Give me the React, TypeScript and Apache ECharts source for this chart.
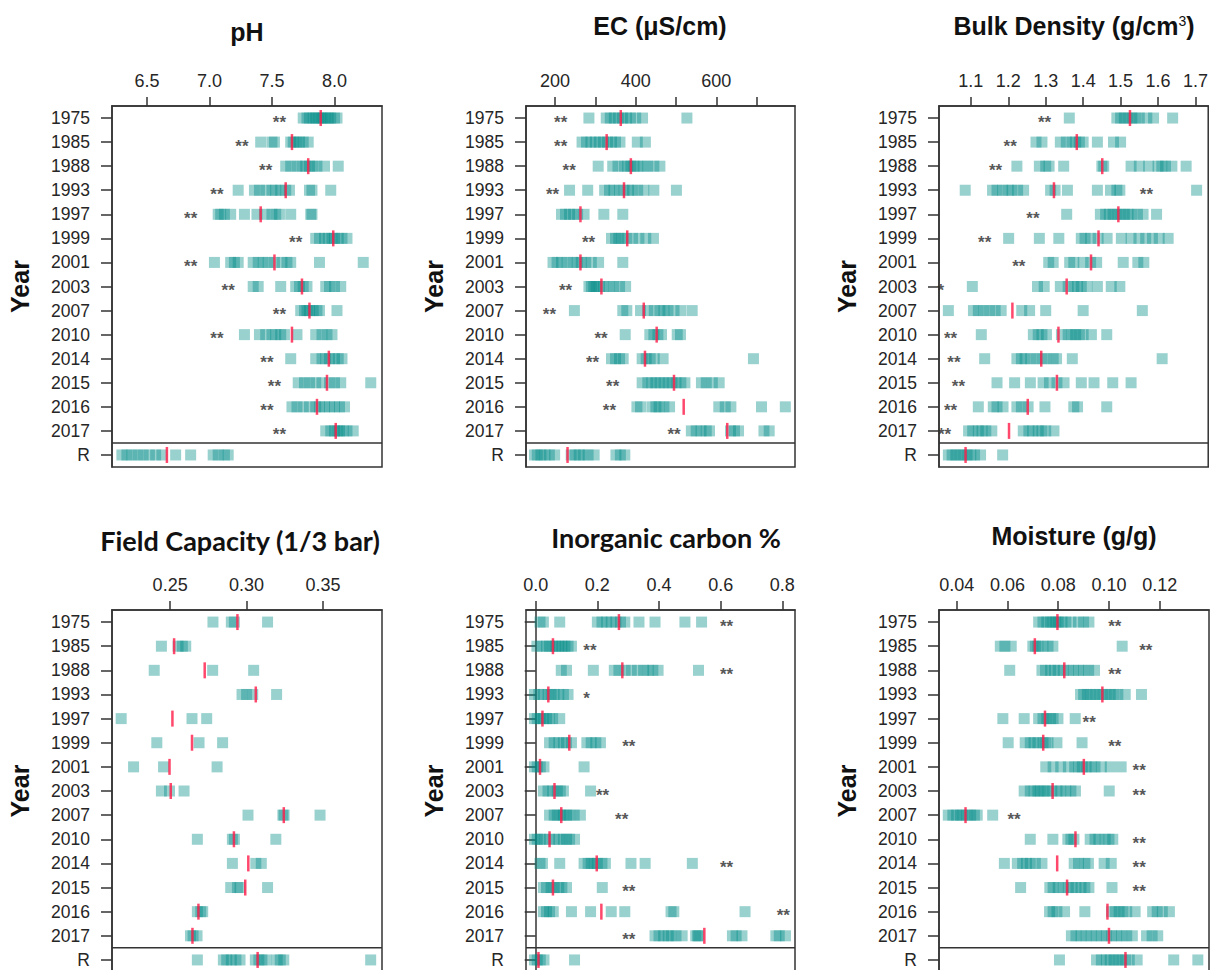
import React, { useEffect, useRef } from 'react';
import * as echarts from 'echarts';

const ROWS = ['1975', '1985', '1988', '1993', '1997', '1999', '2001', '2003', '2007', '2010', '2014', '2015', '2016', '2017', 'R'];

// ---------- pH ----------
const PH_VALUES: number[][] = [
  [7.75, 7.78, 7.8, 7.83, 7.85, 7.87, 7.89, 7.91, 7.93, 7.95, 7.97, 8.0, 8.02],
  [7.41, 7.5, 7.52, 7.65, 7.67, 7.7, 7.72, 7.75, 7.79],
  [7.61, 7.65, 7.7, 7.74, 7.77, 7.8, 7.83, 7.86, 7.92, 8.03],
  [7.23, 7.36, 7.4, 7.45, 7.5, 7.53, 7.57, 7.61, 7.64, 7.8, 7.82, 7.97],
  [7.07, 7.09, 7.12, 7.17, 7.28, 7.38, 7.44, 7.5, 7.53, 7.56, 7.65, 7.81, 7.82],
  [7.85, 7.88, 7.92, 7.95, 7.98, 8.0, 8.03, 8.06, 8.1],
  [7.04, 7.17, 7.2, 7.23, 7.35, 7.39, 7.43, 7.47, 7.52, 7.58, 7.62, 7.65, 7.88, 8.23],
  [7.35, 7.39, 7.57, 7.69, 7.72, 7.75, 7.78, 7.93, 7.96, 8.0, 8.05],
  [7.73, 7.76, 7.78, 7.8, 7.83, 7.86, 7.88, 8.02],
  [7.28, 7.4, 7.45, 7.5, 7.53, 7.57, 7.6, 7.7, 7.85, 7.9, 7.94, 7.98],
  [7.65, 7.85, 7.9, 7.93, 7.96, 8.0, 8.03, 8.06],
  [7.71, 7.76, 7.8, 7.85, 7.9, 7.96, 8.0, 8.05, 8.29],
  [7.66, 7.7, 7.75, 7.8, 7.85, 7.88, 7.92, 7.96, 8.0, 8.04, 8.08],
  [7.93, 7.97, 8.0, 8.02, 8.04, 8.07, 8.1, 8.15],
  [6.3, 6.34, 6.38, 6.43, 6.47, 6.52, 6.57, 6.62, 6.73, 6.85, 7.03, 7.07, 7.12, 7.15],
];
const PH_MEDIANS = [7.89, 7.66, 7.79, 7.61, 7.41, 7.99, 7.52, 7.74, 7.8, 7.66, 7.955, 7.94, 7.86, 8.01, 6.66];
const PH_STARS = [7.56, 7.26, 7.45, 7.06, 6.85, 7.69, 6.85, 7.15, 7.56, 7.06, 7.46, 7.52, 7.46, 7.56, null];
const PH_STAR_TEXT = ['**', '**', '**', '**', '**', '**', '**', '**', '**', '**', '**', '**', '**', '**', ''];
const PH_RANGE = [6.221, 8.38];
const PH_TICKS = [6.5, 7.0, 7.5, 8.0];
const PH_LABELS = [6.5, 7.0, 7.5, 8.0];

// ---------- EC ----------
const EC_VALUES: number[][] = [
  [284, 327, 337, 347, 357, 367, 377, 387, 400, 417, 527],
  [267, 278, 289, 300, 310, 320, 330, 340, 350, 361, 404, 424],
  [307, 343, 356, 372, 380, 388, 396, 405, 418, 430, 445, 460],
  [236, 281, 323, 335, 346, 360, 371, 382, 392, 405, 420, 445, 501],
  [216, 226, 236, 246, 256, 272, 321, 368],
  [340, 350, 358, 366, 378, 392, 408, 425, 444],
  [195, 205, 216, 230, 244, 255, 265, 276, 290, 308, 368],
  [284, 290, 296, 302, 310, 320, 334, 346, 360, 375],
  [248, 368, 378, 412, 430, 446, 460, 470, 480, 495, 512, 540],
  [374, 435, 445, 455, 464, 503, 511],
  [340, 350, 360, 369, 416, 426, 436, 446, 468, 692],
  [416, 430, 440, 450, 460, 470, 480, 490, 500, 512, 522, 563, 575, 590, 607],
  [403, 412, 440, 450, 458, 470, 484, 606, 622, 636, 712, 771],
  [538, 550, 562, 575, 583, 635, 645, 655, 718, 731],
  [149, 156, 165, 175, 186, 199, 240, 250, 260, 270, 282, 297, 351, 362, 373],
];
const EC_MEDIANS = [363, 328, 388, 371, 263, 379, 263, 315, 420, 452, 423, 495, 519, 627, 231];
const EC_STARS = [214, 214, 235, 194, null, 283, null, 226, 186, 314, 293, 343, 335, 495, null];
const EC_STAR_TEXT = ['**', '**', '**', '**', '', '**', '', '**', '**', '**', '**', '**', '**', '**', ''];
const EC_RANGE = [128, 795];
const EC_TICKS = [200, 300, 400, 500, 600, 700];
const EC_LABELS = [200, 400, 600];

// ---------- Bulk density ----------
const BD_VALUES: number[][] = [
  [1.363, 1.49, 1.5, 1.51, 1.52, 1.53, 1.54, 1.55, 1.57, 1.588, 1.639],
  [1.274, 1.29, 1.339, 1.355, 1.37, 1.38, 1.39, 1.4, 1.438, 1.481, 1.5],
  [1.223, 1.283, 1.3, 1.309, 1.348, 1.45, 1.455, 1.528, 1.55, 1.575, 1.6, 1.61, 1.62, 1.637, 1.675],
  [1.085, 1.158, 1.17, 1.185, 1.2, 1.21, 1.225, 1.241, 1.313, 1.325, 1.358, 1.438, 1.473, 1.49, 1.498, 1.703],
  [1.356, 1.446, 1.46, 1.47, 1.48, 1.49, 1.5, 1.51, 1.52, 1.53, 1.545, 1.56, 1.596],
  [1.201, 1.283, 1.335, 1.395, 1.405, 1.42, 1.44, 1.464, 1.502, 1.528, 1.549, 1.567, 1.585, 1.603, 1.627],
  [1.308, 1.32, 1.364, 1.375, 1.4, 1.42, 1.436, 1.507, 1.546, 1.562],
  [1.104, 1.278, 1.296, 1.339, 1.36, 1.375, 1.385, 1.395, 1.41, 1.438, 1.475, 1.498],
  [1.04, 1.107, 1.12, 1.135, 1.15, 1.165, 1.181, 1.236, 1.257, 1.3, 1.4, 1.558],
  [1.128, 1.267, 1.28, 1.29, 1.302, 1.342, 1.36, 1.37, 1.38, 1.39, 1.4, 1.422, 1.463],
  [1.137, 1.223, 1.235, 1.245, 1.26, 1.275, 1.29, 1.3, 1.32, 1.329, 1.371, 1.611],
  [1.17, 1.217, 1.259, 1.293, 1.31, 1.33, 1.349, 1.395, 1.429, 1.479, 1.528],
  [1.12, 1.16, 1.17, 1.186, 1.223, 1.235, 1.253, 1.298, 1.375, 1.385, 1.463],
  [1.094, 1.105, 1.12, 1.13, 1.14, 1.156, 1.24, 1.255, 1.265, 1.28, 1.29, 1.3, 1.322],
  [1.04, 1.05, 1.06, 1.07, 1.08, 1.09, 1.1, 1.11, 1.126, 1.185],
];
const BD_MEDIANS = [1.525, 1.383, 1.451, 1.322, 1.494, 1.441, 1.421, 1.356, 1.211, 1.334, 1.288, 1.33, 1.252, 1.202, 1.086];
const BD_STARS = [1.297, 1.205, 1.166, 1.569, 1.266, 1.137, 1.228, 1.02, null, 1.046, 1.055, 1.067, 1.046, 1.03, null];
const BD_STAR_TEXT = ['**', '**', '**', '**', '**', '**', '**', '*', '', '**', '**', '**', '**', '**', ''];
const BD_RANGE = [1.015, 1.734];
const BD_TICKS = [1.1, 1.2, 1.3, 1.4, 1.5, 1.6, 1.7];
const BD_LABELS = [1.1, 1.2, 1.3, 1.4, 1.5, 1.6, 1.7];

// ---------- Field capacity ----------
const FC_VALUES: number[][] = [
  [0.278, 0.29, 0.292, 0.3137],
  [0.2443, 0.2552, 0.258, 0.2602],
  [0.2396, 0.2778, 0.3046],
  [0.297, 0.3, 0.304, 0.3196],
  [0.218, 0.2643, 0.2739],
  [0.2413, 0.2689, 0.2843],
  [0.2261, 0.2457, 0.2807],
  [0.2443, 0.2496, 0.2591],
  [0.3009, 0.3237, 0.3245, 0.348],
  [0.2678, 0.2907, 0.292, 0.3191],
  [0.2907, 0.306, 0.3096],
  [0.2896, 0.294, 0.2957, 0.3137],
  [0.2678, 0.27, 0.2713],
  [0.2633, 0.265, 0.2676],
  [0.2678, 0.2848, 0.287, 0.29, 0.293, 0.2957, 0.3057, 0.308, 0.31, 0.313, 0.32, 0.322, 0.3243, 0.3811],
];
const FC_MEDIANS = [0.294, 0.2526, 0.2726, 0.306, 0.2515, 0.2643, 0.2496, 0.2504, 0.3243, 0.2917, 0.3011, 0.2991, 0.2685, 0.2646, 0.3072];
const FC_STARS: (number | null)[] = [null, null, null, null, null, null, null, null, null, null, null, null, null, null, null];
const FC_STAR_TEXT = ['', '', '', '', '', '', '', '', '', '', '', '', '', '', ''];
const FC_RANGE = [0.212, 0.3885];
const FC_TICKS = [0.25, 0.3, 0.35];
const FC_LABELS = [0.25, 0.3, 0.35];

// ---------- Inorganic carbon ----------
const IC_VALUES: number[][] = [
  [0.014, 0.025, 0.078, 0.2, 0.215, 0.23, 0.245, 0.26, 0.275, 0.289, 0.335, 0.387, 0.484, 0.538],
  [0.004, 0.02, 0.035, 0.045, 0.055, 0.065, 0.075, 0.085, 0.095, 0.105, 0.116],
  [0.083, 0.1, 0.187, 0.255, 0.27, 0.29, 0.31, 0.33, 0.35, 0.365, 0.38, 0.397, 0.528],
  [-0.004, 0.01, 0.025, 0.04, 0.05, 0.06, 0.075, 0.09, 0.105],
  [-0.004, 0.005, 0.015, 0.025, 0.035, 0.045, 0.055, 0.078],
  [0.045, 0.06, 0.075, 0.09, 0.1, 0.116, 0.166, 0.18, 0.195, 0.21],
  [-0.004, 0.005, 0.015, 0.027, 0.157],
  [0.025, 0.04, 0.055, 0.07, 0.08, 0.09, 0.178],
  [0.045, 0.06, 0.07, 0.08, 0.09, 0.1, 0.11, 0.125, 0.145],
  [-0.004, 0.005, 0.015, 0.03, 0.045, 0.06, 0.075, 0.09, 0.1, 0.11, 0.126],
  [0.014, 0.022, 0.078, 0.157, 0.17, 0.18, 0.19, 0.2, 0.215, 0.226, 0.309, 0.355, 0.508],
  [0.025, 0.035, 0.05, 0.06, 0.075, 0.085, 0.1, 0.216],
  [0.025, 0.035, 0.045, 0.057, 0.116, 0.178, 0.245, 0.289, 0.439, 0.448, 0.679],
  [0.387, 0.4, 0.415, 0.43, 0.44, 0.455, 0.475, 0.519, 0.525, 0.529, 0.638, 0.65, 0.669, 0.779, 0.79, 0.81],
  [-0.004, 0.005, 0.015, 0.027, 0.126],
];
const IC_MEDIANS = [0.27, 0.056, 0.281, 0.041, 0.022, 0.109, 0.014, 0.061, 0.083, 0.045, 0.198, 0.056, 0.213, 0.547, 0.009];
const IC_STARS = [0.619, 0.176, 0.619, 0.165, null, 0.302, null, 0.217, 0.279, null, 0.619, 0.302, 0.803, 0.302, null];
const IC_STAR_TEXT = ['**', '**', '**', '*', '', '**', '', '**', '**', '', '**', '**', '**', '**', ''];
const IC_RANGE = [-0.0314, 0.841];
const IC_TICKS = [0.0, 0.2, 0.4, 0.6, 0.8];
const IC_LABELS = [0.0, 0.2, 0.4, 0.6, 0.8];

// ---------- Moisture ----------
const MO_VALUES: number[][] = [
  [0.0723, 0.074, 0.0755, 0.077, 0.078, 0.079, 0.08, 0.0815, 0.083, 0.085, 0.088, 0.09, 0.0921],
  [0.0572, 0.059, 0.0615, 0.07, 0.071, 0.072, 0.074, 0.076, 0.0779, 0.1052],
  [0.0609, 0.0736, 0.075, 0.077, 0.0785, 0.08, 0.082, 0.084, 0.086, 0.088, 0.09, 0.092, 0.0943],
  [0.0888, 0.09, 0.0915, 0.093, 0.0945, 0.096, 0.0975, 0.099, 0.1005, 0.102, 0.1035, 0.1064, 0.1128],
  [0.0582, 0.0666, 0.0723, 0.074, 0.0755, 0.077, 0.078, 0.0799, 0.0867],
  [0.0603, 0.067, 0.069, 0.0705, 0.072, 0.074, 0.075, 0.076, 0.0795, 0.0894],
  [0.0751, 0.078, 0.081, 0.084, 0.0865, 0.088, 0.0895, 0.091, 0.093, 0.0945, 0.097, 0.1005, 0.1048],
  [0.0666, 0.069, 0.0705, 0.072, 0.073, 0.0745, 0.076, 0.0775, 0.0795, 0.081, 0.083, 0.085, 0.0868, 0.1001],
  [0.0367, 0.0385, 0.04, 0.0415, 0.0425, 0.044, 0.0455, 0.047, 0.0481, 0.0542],
  [0.069, 0.0779, 0.0838, 0.085, 0.0862, 0.0926, 0.0945, 0.096, 0.0985, 0.1, 0.1015],
  [0.0588, 0.0639, 0.066, 0.0675, 0.069, 0.071, 0.0736, 0.0863, 0.088, 0.0905, 0.0919, 0.0981, 0.1009],
  [0.0652, 0.0767, 0.078, 0.08, 0.082, 0.084, 0.0855, 0.087, 0.089, 0.0905, 0.0921, 0.1012],
  [0.0766, 0.078, 0.0795, 0.0825, 0.0905, 0.101, 0.1025, 0.104, 0.1055, 0.107, 0.1103, 0.1172, 0.119, 0.121, 0.1238],
  [0.0852, 0.087, 0.089, 0.091, 0.093, 0.095, 0.097, 0.099, 0.101, 0.103, 0.105, 0.107, 0.1092, 0.1148, 0.117, 0.1192],
  [0.0805, 0.0951, 0.097, 0.099, 0.1005, 0.102, 0.1035, 0.105, 0.1065, 0.108, 0.1111, 0.1255, 0.135],
];
const MO_MEDIANS = [0.0797, 0.0708, 0.0824, 0.0974, 0.0748, 0.0741, 0.0901, 0.0778, 0.0435, 0.0868, 0.0796, 0.0835, 0.0994, 0.1, 0.1065];
const MO_STARS = [0.1023, 0.1145, 0.1023, null, 0.0922, 0.1023, 0.1119, 0.1119, 0.0626, 0.1119, 0.1119, 0.1119, null, null, null];
const MO_STAR_TEXT = ['**', '**', '**', '', '**', '**', '**', '**', '**', '**', '**', '**', '', '', ''];
const MO_RANGE = [0.03305, 0.1394];
const MO_TICKS = [0.04, 0.06, 0.08, 0.1, 0.12];
const MO_LABELS = [0.04, 0.06, 0.08, 0.1, 0.12];

// ---------- styling / layout ----------
const FONT = "'Liberation Sans', Arial, Helvetica, sans-serif";
const ALT_FONT = "Lato, 'Open Sans', sans-serif";
const MARK_COLOR = 'rgba(0,140,136,0.5)';
const MEDIAN_COLOR = '#ff1a47';
const INK = '#262626';

const PANELS = [
  { title: 'pH', values: PH_VALUES, medians: PH_MEDIANS, stars: PH_STARS, starText: PH_STAR_TEXT, range: PH_RANGE, ticks: PH_TICKS, labels: PH_LABELS, digits: 1 },
  { title: 'EC (\u03bcS/cm)', values: EC_VALUES, medians: EC_MEDIANS, stars: EC_STARS, starText: EC_STAR_TEXT, range: EC_RANGE, ticks: EC_TICKS, labels: EC_LABELS, digits: 0 },
  { title: '{b|Bulk Density (g/cm}{sup|3}{b|)}', values: BD_VALUES, medians: BD_MEDIANS, stars: BD_STARS, starText: BD_STAR_TEXT, range: BD_RANGE, ticks: BD_TICKS, labels: BD_LABELS, digits: 1 },
  { title: 'Field Capacity (1/3 bar)', values: FC_VALUES, medians: FC_MEDIANS, stars: FC_STARS, starText: FC_STAR_TEXT, range: FC_RANGE, ticks: FC_TICKS, labels: FC_LABELS, digits: 2 },
  { title: 'Inorganic carbon %', values: IC_VALUES, medians: IC_MEDIANS, stars: IC_STARS, starText: IC_STAR_TEXT, range: IC_RANGE, ticks: IC_TICKS, labels: IC_LABELS, digits: 1 },
  { title: 'Moisture (g/g)', values: MO_VALUES, medians: MO_MEDIANS, stars: MO_STARS, starText: MO_STAR_TEXT, range: MO_RANGE, ticks: MO_TICKS, labels: MO_LABELS, digits: 2 },
];

const LAYOUT = [
  { left: 112, top: 106, width: 270, height: 361, tx: 247, ty: 32, font: FONT, size: 25 },
  { left: 526, top: 106, width: 269, height: 361, tx: 660, ty: 26, font: FONT, size: 25 },
  { left: 939, top: 106, width: 270, height: 361, tx: 1074, ty: 26, font: FONT, size: 25 },
  { left: 112, top: 610, width: 270, height: 362, tx: 240, ty: 540, font: ALT_FONT, size: 27 },
  { left: 526, top: 610, width: 269, height: 362, tx: 666, ty: 537, font: ALT_FONT, size: 27 },
  { left: 939, top: 610, width: 270, height: 362, tx: 1074, ty: 536, font: FONT, size: 25 },
];

function buildOption(): any {
  const grid: any[] = [];
  const xAxis: any[] = [];
  const yAxis: any[] = [];
  const series: any[] = [];
  const graphic: any[] = [];

  PANELS.forEach((p, i) => {
    const L = LAYOUT[i];
    grid.push({ left: L.left, top: L.top, width: L.width, height: L.height, show: true, borderColor: '#333', borderWidth: 1.5, backgroundColor: 'transparent' });
    xAxis.push({
      gridIndex: i,
      type: 'value',
      position: 'top',
      min: p.range[0],
      max: p.range[1],
      splitLine: { show: false },
      axisLine: { show: true, lineStyle: { color: '#333', width: 1.5 } },
      axisTick: { show: true, customValues: p.ticks, length: 9, lineStyle: { color: '#333', width: 1.5 } },
      axisLabel: {
        show: true,
        customValues: p.labels,
        margin: 16,
        fontSize: 18,
        fontFamily: FONT,
        color: INK,
        formatter: (v: number) => v.toFixed(p.digits),
      },
    });
    yAxis.push({
      gridIndex: i,
      type: 'category',
      data: ROWS,
      inverse: true,
      axisLine: { show: true, lineStyle: { color: '#333', width: 1.5 } },
      axisTick: { show: true, alignWithLabel: true, interval: 0, length: 11, lineStyle: { color: '#333', width: 1.5 } },
      axisLabel: { interval: 0, margin: 22, fontSize: 17.5, fontFamily: FONT, color: INK },
      splitLine: { show: false },
      name: 'Year',
      nameLocation: 'middle',
      nameRotate: 90,
      nameGap: 80,
      nameTextStyle: { fontSize: 25, fontWeight: 'bold', fontFamily: FONT, color: '#111' },
    });

    const marks: number[][] = [];
    p.values.forEach((row, r) => row.forEach((v) => marks.push([v, r])));
    series.push({
      type: 'scatter',
      xAxisIndex: i,
      yAxisIndex: i,
      symbol: 'rect',
      symbolSize: [11, 11],
      itemStyle: { color: MARK_COLOR },
      data: marks,
      silent: true,
      z: 2,
    });
    series.push({
      type: 'scatter',
      xAxisIndex: i,
      yAxisIndex: i,
      symbol: 'rect',
      symbolSize: [2.5, 16],
      itemStyle: { color: MEDIAN_COLOR },
      data: p.medians.map((v, r) => [v, r]),
      silent: true,
      z: 3,
    });
    const starData: any[] = [];
    p.stars.forEach((v, r) => {
      if (v !== null && p.starText[r]) starData.push([v, r, p.starText[r]]);
    });
    if (starData.length) {
      series.push({
        type: 'scatter',
        xAxisIndex: i,
        yAxisIndex: i,
        symbol: 'circle',
        symbolSize: 1,
        itemStyle: { color: 'rgba(0,0,0,0)' },
        data: starData,
        silent: true,
        z: 4,
        label: {
          show: true,
          position: 'inside',
          offset: [0, 4],
          formatter: (q: any) => q.value[2],
          fontSize: 17,
          fontWeight: 'bold',
          fontFamily: FONT,
          color: '#2a2a2a',
        },
      });
    }
    series.push({
      type: 'custom',
      xAxisIndex: i,
      yAxisIndex: i,
      silent: true,
      z: 5,
      data: [[p.range[0], ROWS.length - 1]],
      renderItem: (params: any, api: any) => {
        const c = api.coord([api.value(0), api.value(1)]);
        const s = api.size([0, 1]);
        const cs = params.coordSys;
        const y = c[1] - Math.abs(s[1]) / 2;
        return {
          type: 'line',
          shape: { x1: cs.x, y1: y, x2: cs.x + cs.width, y2: y },
          style: { stroke: '#333', lineWidth: 1.5 },
        };
      },
    });

    graphic.push({
      type: 'text',
      x: L.tx,
      y: L.ty,
      silent: true,
      style: {
        text: p.title,
        fontSize: L.size,
        fontWeight: 'bold',
        fontFamily: L.font,
        fill: '#111',
        align: 'center',
        verticalAlign: 'middle',
        rich: {
          b: { fontSize: L.size, fontWeight: 'bold', fontFamily: L.font, color: '#111' },
          sup: { fontSize: 14, fontFamily: L.font, color: '#111', verticalAlign: 'top' },
        },
      },
    });
  });

  return { animation: false, backgroundColor: '#fff', grid, xAxis, yAxis, series, graphic };
}

export default function App() {
  const ref = useRef<HTMLDivElement>(null);
  useEffect(() => {
    if (!ref.current) return;
    const chart = echarts.init(ref.current, null, { renderer: 'svg' });
    chart.setOption(buildOption());
    return () => chart.dispose();
  }, []);
  return (
    <div
      ref={ref}
      style={{ position: 'fixed', left: 0, top: 0, width: 1211, height: 980, background: '#fff' }}
    />
  );
}
